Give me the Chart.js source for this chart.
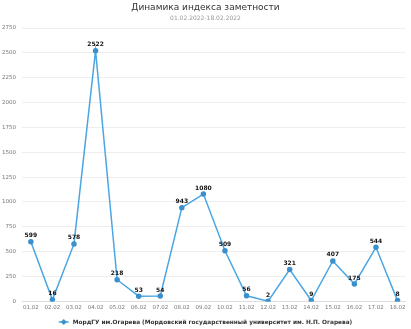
<!DOCTYPE html>
<html><head><meta charset="utf-8">
<script src="https://cdn.jsdelivr.net/npm/chart.js@4"></script>
<style>html,body{margin:0;padding:0;background:#fff;}#wrap{width:411px;height:329px;}</style>
</head><body><div id="wrap"><canvas id="c"></canvas></div>
<script>
const categories = ["01.02","02.02","03.02","04.02","05.02","06.02","07.02","08.02","09.02","10.02","11.02","12.02","13.02","14.02","15.02","16.02","17.02","18.02"];
const values = [599,16,578,2522,218,53,54,943,1080,509,56,2,321,9,407,175,544,8];
const seriesName = "МордГУ им.Огарева (Мордовский государственный университет им. Н.П. Огарева)";
const titleText = "Динамика индекса заметности";
const subtitleText = "01.02.2022-18.02.2022";

const lineColor = '#4aa6e3';
const pointColor = '#3a8fcc';

const labelPlugin = {
  id: 'vals',
  afterDatasetsDraw(chart) {
    const ctx = chart.ctx;
    const meta = chart.getDatasetMeta(0);
    ctx.save();
    ctx.font = 'bold 6px "DejaVu Sans"';
    ctx.fillStyle = '#111';
    ctx.textAlign = 'center';
    ctx.textBaseline = 'bottom';
    meta.data.forEach((p, i) => {
      ctx.fillText(String(values[i]), p.x, p.y - 3);
    });
    ctx.restore();
  }
};

const legendPlugin = {
  id: 'customLegend',
  afterDraw(chart) {
    const ctx = chart.ctx;
    const y = 322;
    ctx.save();
    ctx.font = 'bold 5.8px "DejaVu Sans"';
    const tw = ctx.measureText(seriesName).width;
    const total = 14 + tw;
    const x0 = (chart.width - total) / 2;
    ctx.strokeStyle = lineColor;
    ctx.lineWidth = 1.5;
    ctx.beginPath(); ctx.moveTo(x0, y); ctx.lineTo(x0 + 10, y); ctx.stroke();
    ctx.fillStyle = pointColor;
    ctx.beginPath();
    ctx.moveTo(x0 + 5, y - 3); ctx.lineTo(x0 + 8, y); ctx.lineTo(x0 + 5, y + 3); ctx.lineTo(x0 + 2, y); ctx.closePath(); ctx.fill();
    ctx.fillStyle = '#333';
    ctx.textBaseline = 'middle';
    ctx.textAlign = 'left';
    ctx.fillText(seriesName, x0 + 14, y);
    ctx.restore();
  }
};

new Chart(document.getElementById('c'), {
  type: 'line',
  data: {
    datasets: [{
      label: seriesName,
      data: values.map((v, i) => ({x: i, y: v})),
      borderColor: lineColor,
      backgroundColor: pointColor,
      pointBackgroundColor: pointColor,
      pointBorderColor: pointColor,
      borderWidth: 1.5,
      pointRadius: 2,
      pointStyle: 'circle',
      tension: 0
    }]
  },
  options: {
    responsive: true,
    maintainAspectRatio: false,
    animation: false,
    layout: {padding: {left: 0, right: 0, top: 0, bottom: 15}},
    plugins: {
      title: {display: true, text: titleText, color: '#333', font: {family: 'DejaVu Sans', size: 9, weight: 'normal'}, padding: {top: 2, bottom: 2}},
      subtitle: {display: true, text: subtitleText, color: '#999', font: {family: 'DejaVu Sans', size: 6}, padding: {top: 0, bottom: 6}},
      legend: {display: false},
      tooltip: {enabled: false}
    },
    scales: {
      x: {
        type: 'linear',
        min: -0.41, max: 17.37,
        afterBuildTicks(scale) { scale.ticks = categories.map((c, i) => ({value: i})); },
        ticks: {color: '#777', font: {family: 'DejaVu Sans', size: 5.5}, maxRotation: 0, autoSkip: false, padding: 3,
          callback: (v) => categories[v]},
        grid: {display: false, drawTicks: false},
        border: {color: '#ddd'}
      },
      y: {
        min: 0, max: 2750,
        ticks: {stepSize: 250, color: '#777', font: {family: 'DejaVu Sans', size: 5.5}, padding: 6, callback: (v) => String(v)},
        grid: {color: '#eee', drawTicks: false},
        border: {display: false},
        afterFit(scale) { scale.width = 22; }
      }
    }
  },
  plugins: [labelPlugin, legendPlugin]
});
</script></body></html>
